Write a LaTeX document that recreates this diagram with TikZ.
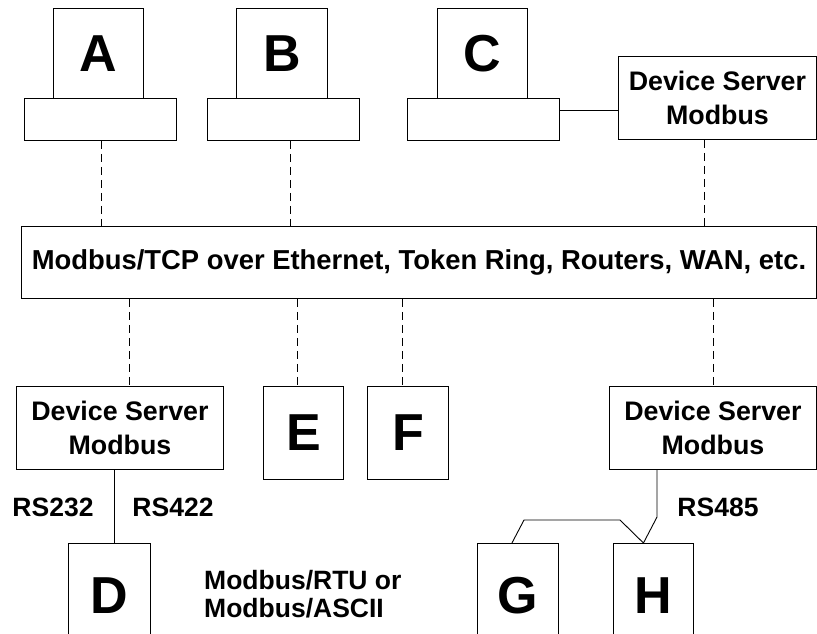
\documentclass[tikz,border=0pt]{standalone}
\usepackage{fontspec}
\setmainfont{Liberation Sans}
\tikzset{
  box/.style={draw, line width=0.9pt, inner sep=0pt, anchor=north west,
    font=\fontsize{52}{52}\selectfont\bfseries},
  ds/.style={box, align=center, font=\fontsize{26.8}{34}\selectfont\bfseries},
  net/.style={box, font=\fontsize{27.4}{34}\selectfont\bfseries},
  lbl/.style={inner sep=0pt, font=\fontsize{26.5}{28}\selectfont\bfseries},
  dline/.style={line width=0.9pt, dash pattern=on 8pt off 5pt},
  wire/.style={line width=0.9pt},
}
\begin{document}
\begin{tikzpicture}[x=1pt,y=-1pt]
\useasboundingbox (0,0) rectangle (817,633);
\clip (0,0) rectangle (817,633);
% top row
\node[box, minimum width=90pt, minimum height=90pt] (A) at (53,8) {A};
\node[box, minimum width=152pt, minimum height=42pt] (Abase) at (24,98) {};
\node[box, minimum width=91pt, minimum height=90pt] (B) at (236,8) {B};
\node[box, minimum width=152pt, minimum height=42pt] (Bbase) at (207,98) {};
\node[box, minimum width=90pt, minimum height=90pt] (C) at (437,8) {C};
\node[box, minimum width=152pt, minimum height=42pt] (Cbase) at (407,98) {};
\node[ds, minimum width=198pt, minimum height=83pt] (DS1) at (618,56) {Device Server\\Modbus};
% network
\node[net, minimum width=795pt, minimum height=72pt] (Net) at (21,226) {Modbus/TCP over Ethernet, Token Ring, Routers, WAN, etc.};
% lower row
\node[ds, minimum width=207pt, minimum height=83pt] (DS2) at (16,386) {Device Server\\Modbus};
\node[box, minimum width=80pt, minimum height=93pt] (E) at (263,386) {E};
\node[box, minimum width=81pt, minimum height=93pt] (F) at (367,386) {F};
\node[ds, minimum width=207pt, minimum height=83pt] (DS3) at (609,386) {Device Server\\Modbus};
% bottom row
\node[box, minimum width=82pt, minimum height=104pt] (D) at (68,543) {D};
\node[box, minimum width=81pt, minimum height=104pt] (G) at (477,543) {G};
\node[box, minimum width=80pt, minimum height=104pt] (H) at (613,543) {H};
% labels
\node[lbl] (rs232) at (53,507) {RS232};
\node[lbl] (rs422) at (173,507) {RS422};
\node[lbl] (rs485) at (718,507) {RS485};
\node[lbl, align=left, anchor=west] (proto) at (204,594) {Modbus/RTU or\\Modbus/ASCII};
% dashed links
\draw[dline] ([xshift=1pt]Abase.south) -- ([xshift=1pt]Abase.south |- Net.north);
\draw[dline] ([xshift=7pt]Bbase.south) -- ([xshift=7pt]Bbase.south |- Net.north);
\draw[dline] ([xshift=-13pt]DS1.south) -- ([xshift=-13pt]DS1.south |- Net.north);
\draw[dline] ([xshift=9.5pt]DS2.north |- Net.south) -- ([xshift=9.5pt]DS2.north);
\draw[dline] ([xshift=-6pt]E.north |- Net.south) -- ([xshift=-6pt]E.north);
\draw[dline] ([xshift=-5.5pt]F.north |- Net.south) -- ([xshift=-5.5pt]F.north);
\draw[dline] (DS3.north |- Net.south) -- (DS3.north);
% solid links
\draw[wire] ([yshift=9pt]Cbase.east) -- ([yshift=9pt]Cbase.east -| DS1.west);
\draw[wire] ([xshift=-5.5pt]DS2.south) -- ([xshift=-5.5pt]DS2.south |- D.north);
\coordinate (hb) at (657,517);
\coordinate (gl) at (524,520);
\coordinate (gr) at (620,520);
\draw[wire] (hb |- DS3.south) -- (hb) -- ([xshift=-10pt]H.north);
\draw[wire] ([xshift=-6pt]G.north) -- (gl) -- (gr) -- ([xshift=-10pt]H.north);
\end{tikzpicture}
\end{document}
